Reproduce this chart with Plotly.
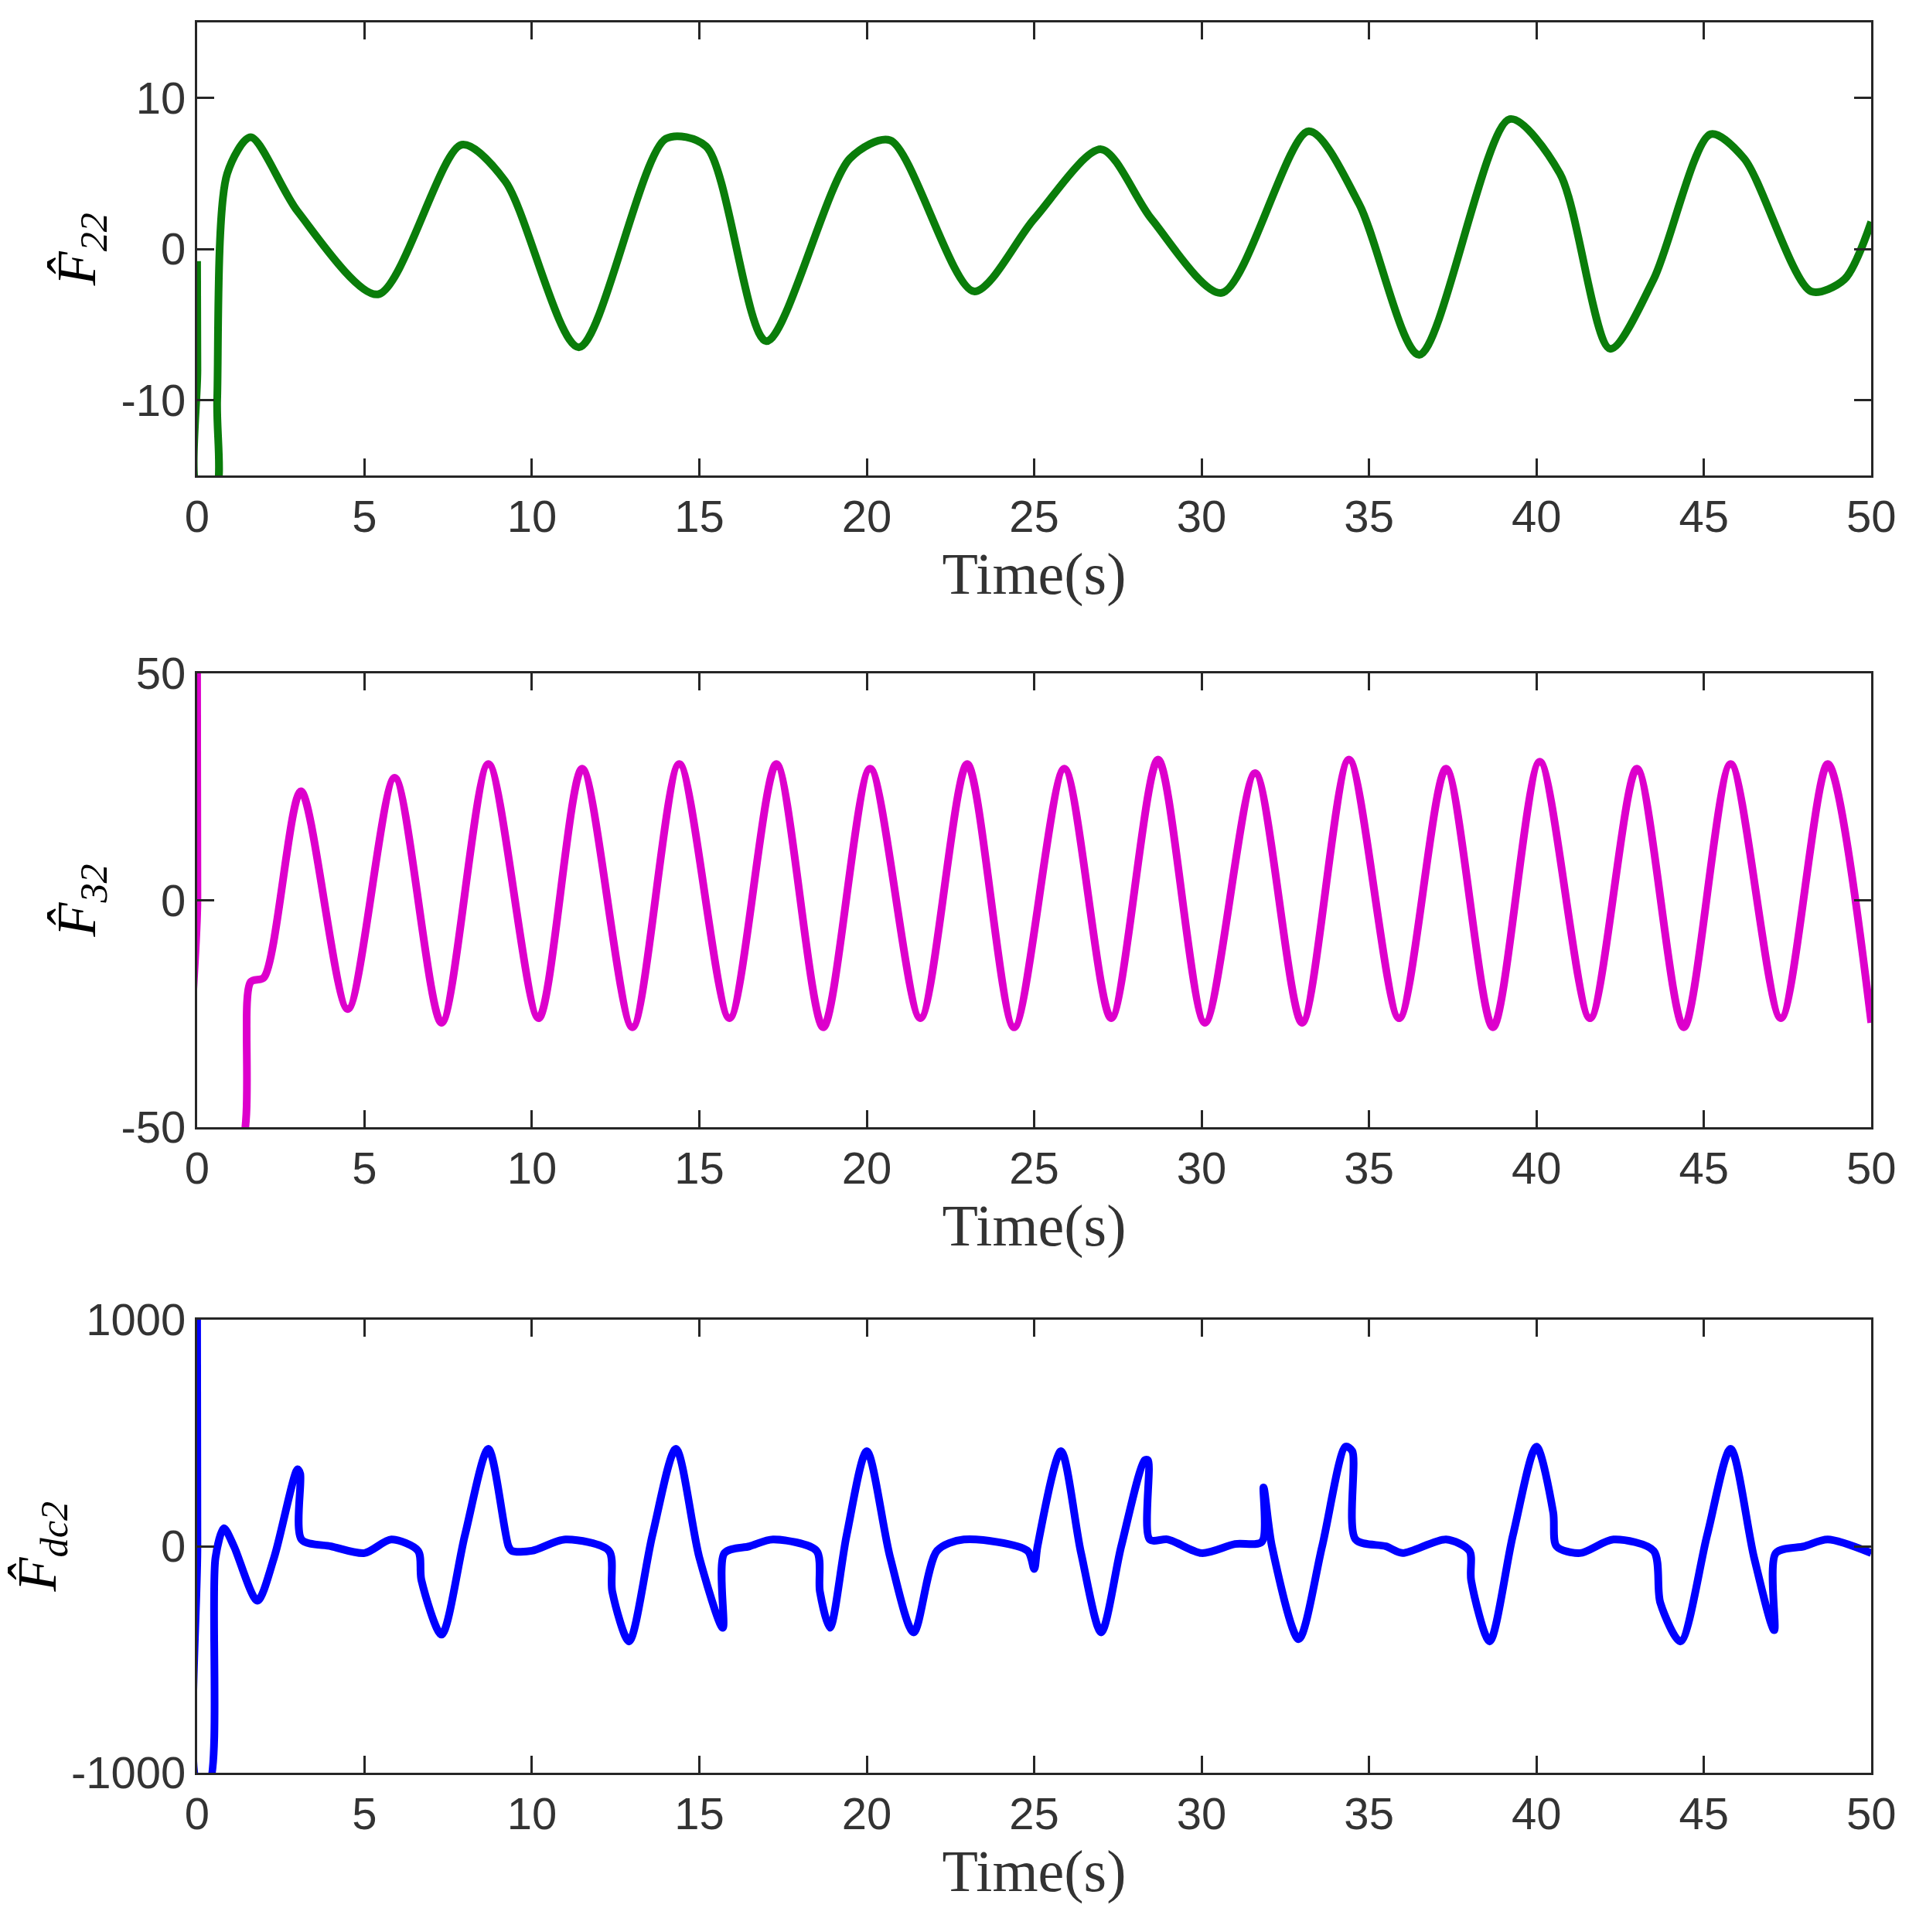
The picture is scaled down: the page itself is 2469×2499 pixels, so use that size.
import plotly.graph_objects as go

# panel 1: F22 estimate
t22 = [0, 0.01, 0.02, 0.55, 0.6, 0.9, 1.6, 3.0, 5.4, 7.9, 9.2, 11.4, 14.0, 15.2, 17.0, 19.5, 20.7,
       23.2, 25.0, 27.0, 28.5, 30.6, 33.2, 34.7, 36.5, 39.2, 40.7, 42.2, 43.5, 45.2, 46.2, 48.2, 49.2, 50]
f22 = [-0.8, -8, -16, -16, -10, 5, 7.4, 2.5, -3, 6.9, 4.5, -6.5, 7.3, 6.8, -6.1, 6.0, 7.2,
       -2.8, 2.0, 6.6, 2.0, -2.9, 7.8, 3.0, -7.0, 8.6, 5.0, -6.6, -2.0, 7.6, 6.0, -2.8, -2.0, 1.8]

# panel 2: F32 estimate
t32 = [0, 0.01, 0.02, 1.25, 1.6, 2.0, 3.1, 4.5, 5.9, 7.3, 8.7, 10.2, 11.5, 13.0, 14.4, 15.9, 17.3,
       18.7, 20.1, 21.6, 23.0, 24.4, 25.9, 27.3, 28.7, 30.1, 31.6, 33.0, 34.4, 35.9, 37.3, 38.7,
       40.1, 41.6, 43.0, 44.4, 45.8, 47.3, 48.7, 50]
f32 = [50, 0, -55, -55, -18, -17, 24, -24, 27, -27, 30, -26, 29, -28, 30, -26, 30,
       -28, 29, -26, 30, -28, 29, -26, 31, -27, 28, -27, 31, -26, 29, -28,
       30.5, -26, 29, -28, 30, -26, 30, -27]

# panel 3: Fdc2 estimate
tdc = [0, 0.01, 0.02, 0.35, 0.55, 0.8, 1.1, 1.8, 2.3, 3.0, 3.08, 3.12, 4, 5, 5.8, 6.6, 6.7, 7.3, 8,
       8.7, 9.3, 9.4, 10, 11, 12.3, 12.4, 12.9, 13.6, 14.3, 15, 15.7, 15.75, 16.5, 17.2, 18.5, 18.6,
       18.9, 19.4, 20, 20.7, 21.4, 22.1, 22.9, 24.8, 25.0, 25.1, 25.8, 26.4, 27, 27.6, 28.3, 28.4,
       28.45, 29, 30, 31, 31.8, 31.85, 32.1, 32.9, 33.6, 34.3, 34.5, 34.6, 35.5, 36, 37.3, 38,
       38.05, 38.6, 39.3, 40, 40.5, 40.6, 41.3, 42.3, 43.5, 43.7, 44.3, 45.1, 45.8, 46.5, 47.1,
       47.15, 48, 48.7, 50]
fdc = [1000, 0, -1050, -1050, -50, 80, 0, -240, -50, 340, 320, 30, 0, -30, 30, -20, -150, -390, 50,
       430, 0, -20, -20, 30, -20, -200, -420, 50, 430, -50, -360, -30, 0, 30, -20, -200,
       -360, 50, 420, -50, -380, -20, 30, -20, -100, 0, 420, -30, -380, 0, 380, 380,
       30, 30, -30, 10, 20, 260, 0, -410, 0, 440, 420, 30, 0, -30, 30, -20,
       -150, -420, 50, 440, 150, 0, -30, 30, -20, -250, -420, 50, 430, -50, -370,
       -30, 0, 30, -30]

panels = [
    (t22, f22, '#0a7d0a', [-15, 15], [-10, 0, 10], '<i>F̂</i><sub><i>22</i></sub>', 0.757, 0.9916),
    (t32, f32, '#dd00cc', [-50, 50], [-50, 0, 50], '<i>F̂</i><sub><i>32</i></sub>', 0.4198, 0.6547),
    (tdc, fdc, '#0000ff', [-1000, 1000], [-1000, 0, 1000], '<i>F̂</i><sub><i>dc2</i></sub>', 0.0856, 0.3201),
]

fig = go.Figure()
for i, (t, v, col, yr, yt, lab, y0, y1) in enumerate(panels, start=1):
    fig.add_trace(go.Scatter(x=t, y=v, mode='lines', xaxis=f'x{i}', yaxis=f'y{i}',
                             line=dict(color=col, width=10, shape='spline', smoothing=0.8),
                             showlegend=False))
    ax = dict(showline=True, mirror='allticks', linecolor='#262626', linewidth=3,
              ticks='inside', ticklen=22, tickwidth=3, tickcolor='#262626', showgrid=False,
              zeroline=False, automargin=False,
              tickfont=dict(family='Liberation Sans', size=58, color='#333333'))
    fig.layout[f'xaxis{i}'] = dict(ax, domain=[0.1, 0.977], range=[0, 50],
                                   tickvals=list(range(0, 51, 5)), anchor=f'y{i}',
                                   title=dict(text='Time(s)', standoff=12,
                                              font=dict(family='Liberation Serif', size=76, color='#333333')))
    fig.layout[f'yaxis{i}'] = dict(ax, domain=[y0, y1], range=yr, tickvals=yt,
                                   ticktext=[str(x) for x in yt], anchor=f'x{i}',
                                   title=dict(text=lab, standoff=10,
                                              font=dict(family='Liberation Serif', size=72, color='#000000')))

fig.update_layout(width=2469, height=2499, plot_bgcolor='white', paper_bgcolor='white',
                  margin=dict(l=0, r=0, t=0, b=0))
fig.write_html("out.html")
